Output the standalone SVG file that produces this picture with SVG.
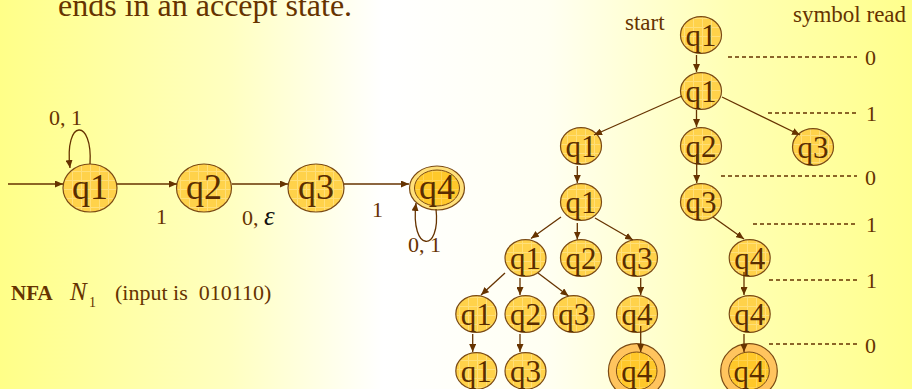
<svg xmlns="http://www.w3.org/2000/svg" width="912" height="389" viewBox="0 0 912 389">
<defs>
<linearGradient id="bg" x1="0" y1="0" x2="1" y2="0">
<stop offset="0" stop-color="#ffff88"/>
<stop offset="0.25" stop-color="#ffffc0"/>
<stop offset="0.42" stop-color="#ffffff"/>
<stop offset="0.6" stop-color="#fffff2"/>
<stop offset="0.8" stop-color="#ffffb4"/>
<stop offset="1" stop-color="#ffff8c"/>
</linearGradient>
<pattern id="grid" width="9" height="9" patternUnits="userSpaceOnUse">
<rect width="9" height="9" fill="#ffd24a"/>
<path d="M0 0.5H9M0.5 0V9" stroke="#ffdf78" stroke-width="1"/>
</pattern>
<pattern id="grid2" width="9" height="9" patternUnits="userSpaceOnUse">
<rect width="9" height="9" fill="#ffc82a"/>
<path d="M0 0.5H9M0.5 0V9" stroke="#ffd352" stroke-width="1"/>
</pattern>
<marker id="ah" markerWidth="8" markerHeight="7" refX="8" refY="3.5" orient="auto" markerUnits="userSpaceOnUse">
<path d="M0,0 L8,3.5 L0,7 z" fill="#663300"/>
</marker>
</defs>
<style>
.t{font-family:"Liberation Serif","Times New Roman",serif;fill:#663300}
.lbl{font-size:22px}
.nl{font-size:36px;text-anchor:middle;fill:#5a2d00}
.tl{font-size:31px;text-anchor:middle;fill:#5a2d00}
.n{fill:url(#grid);stroke:#7a4a14;stroke-width:1.2}
.outer{fill:#ffc45e;stroke:#7a4a14;stroke-width:1.2}
.inner{fill:url(#grid2);stroke:#7a4a14;stroke-width:1}
.e{fill:none;stroke:#663300;stroke-width:1.3;marker-end:url(#ah)}
.d{fill:none;stroke:#663300;stroke-width:1.3;stroke-dasharray:4 3}
</style>
<rect width="912" height="389" fill="url(#bg)"/>
<text class="t" x="58" y="16" font-size="32">ends in an accept state.</text>

<!-- NFA nodes -->
<g id="nfa_q1"><ellipse class="n" cx="90" cy="188" rx="27" ry="24"/><text class="t nl" x="90" y="199">q1</text></g>
<g id="nfa_q2"><ellipse class="n" cx="204" cy="188" rx="27.5" ry="24"/><text class="t nl" x="204" y="199">q2</text></g>
<g id="nfa_q3"><ellipse class="n" cx="316" cy="188" rx="28" ry="24"/><text class="t nl" x="316" y="199">q3</text></g>
<g id="nfa_q4"><ellipse class="n" cx="437" cy="188" rx="27.5" ry="22" style="fill:#ffe07a"/><ellipse class="inner" cx="437" cy="188" rx="22.5" ry="18"/><text class="t nl" x="437" y="199">q4</text></g>

<!-- NFA connectors -->
<g id="nfa_edges">
<path class="e" d="M8 184 L63 184"/>
<path class="e" d="M117 184 L177 184"/>
<path class="e" d="M232 184 L288 184"/>
<path class="e" d="M344 184 L409 184"/>
<path class="e" d="M90 164 C93 118, 64 118, 70 168"/>
<path class="e" d="M436 209 C441 253, 410 253, 416 203"/>
</g>
<g id="nfa_labels">
<text class="t lbl" x="49" y="125">0, 1</text>
<text class="t lbl" x="156" y="224">1</text>
<text class="t lbl" x="242" y="225">0, <tspan font-style="italic" font-size="27" fill="#111">ε</tspan></text>
<text class="t lbl" x="372" y="217">1</text>
<text class="t lbl" x="408" y="252">0, 1</text>
</g>
<g id="caption">
<text class="t" x="11" y="300" font-size="21" font-weight="bold">NFA</text>
<text class="t" x="70" y="300" font-size="25" font-style="italic" fill="#111">N</text>
<text class="t" x="89" y="307" font-size="14" fill="#111">1</text>
<text class="t" x="115" y="300" font-size="22" xml:space="preserve">(input is  010110)</text>
</g>

<!-- Tree labels -->
<text class="t" x="625" y="30" font-size="23">start</text>
<text class="t" x="793" y="22" font-size="23">symbol read</text>

<!-- Dashed lines and symbols -->
<g id="levels">
<path class="d" d="M728 57H857"/><text class="t lbl" x="865" y="65">0</text>
<path class="d" d="M768 113H857"/><text class="t lbl" x="866" y="121">1</text>
<path class="d" d="M721 176H857"/><text class="t lbl" x="865" y="185">0</text>
<path class="d" d="M753 224H855"/><text class="t lbl" x="866" y="232">1</text>
<path class="d" d="M769 280H857"/><text class="t lbl" x="866" y="288">1</text>
<path class="d" d="M769 344H857"/><text class="t lbl" x="865" y="353">0</text>
</g>

<!-- Tree nodes -->
<g id="t0_q1"><ellipse class="n" cx="701" cy="35" rx="20.5" ry="18.3"/><text class="t tl" x="701" y="46">q1</text></g>
<g id="t1_q1"><ellipse class="n" cx="701" cy="91" rx="20.5" ry="18.3"/><text class="t tl" x="701" y="102">q1</text></g>
<g id="t2_q1"><ellipse class="n" cx="581" cy="146" rx="20.5" ry="18.3"/><text class="t tl" x="581" y="157">q1</text></g>
<g id="t2_q2"><ellipse class="n" cx="701" cy="146" rx="20.5" ry="18.3"/><text class="t tl" x="701" y="157">q2</text></g>
<g id="t2_q3"><ellipse class="n" cx="813" cy="147" rx="20.5" ry="18.3"/><text class="t tl" x="813" y="158">q3</text></g>
<g id="t3_q1"><ellipse class="n" cx="581" cy="202" rx="20.5" ry="18.3"/><text class="t tl" x="581" y="213">q1</text></g>
<g id="t3_q3"><ellipse class="n" cx="701" cy="202" rx="20.5" ry="18.3"/><text class="t tl" x="701" y="213">q3</text></g>
<g id="t4_q1"><ellipse class="n" cx="525.5" cy="258" rx="20.5" ry="18.3"/><text class="t tl" x="525.5" y="269">q1</text></g>
<g id="t4_q2"><ellipse class="n" cx="581" cy="258" rx="20.5" ry="18.3"/><text class="t tl" x="581" y="269">q2</text></g>
<g id="t4_q3"><ellipse class="n" cx="637" cy="258" rx="20.5" ry="18.3"/><text class="t tl" x="637" y="269">q3</text></g>
<g id="t4_q4"><ellipse class="n" cx="749.7" cy="258" rx="20.5" ry="18.3"/><text class="t tl" x="749.7" y="269">q4</text></g>
<g id="t5_q1"><ellipse class="n" cx="476.3" cy="314" rx="20.5" ry="18.3"/><text class="t tl" x="476.3" y="325">q1</text></g>
<g id="t5_q2"><ellipse class="n" cx="525.5" cy="314" rx="20.5" ry="18.3"/><text class="t tl" x="525.5" y="325">q2</text></g>
<g id="t5_q3"><ellipse class="n" cx="573.7" cy="314" rx="20.5" ry="18.3"/><text class="t tl" x="573.7" y="325">q3</text></g>
<g id="t5_q4a"><ellipse class="n" cx="637" cy="314" rx="20.5" ry="18.3"/><text class="t tl" x="637" y="325">q4</text></g>
<g id="t5_q4b"><ellipse class="n" cx="749.7" cy="314" rx="20.5" ry="18.3"/><text class="t tl" x="749.7" y="325">q4</text></g>
<g id="t6_q1"><ellipse class="n" cx="476.3" cy="371" rx="20.5" ry="18.3"/><text class="t tl" x="476.3" y="382">q1</text></g>
<g id="t6_q3"><ellipse class="n" cx="525.5" cy="371" rx="20.5" ry="18.3"/><text class="t tl" x="525.5" y="382">q3</text></g>
<g id="t6_q4a"><ellipse class="outer" cx="636.7" cy="371" rx="28.3" ry="27.4"/><ellipse class="inner" cx="636.7" cy="371" rx="20.3" ry="19"/><text class="t tl" x="636.7" y="382">q4</text></g>
<g id="t6_q4b"><ellipse class="outer" cx="749" cy="371" rx="28.3" ry="27.4"/><ellipse class="inner" cx="749" cy="371" rx="20.3" ry="19"/><text class="t tl" x="749" y="382">q4</text></g>

<!-- Tree connectors -->
<g id="tree_edges">
<path class="e" d="M696.5 55 L696.5 72"/>
<path class="e" d="M682 96 L594 135"/>
<path class="e" d="M696.5 110 L696.5 127"/>
<path class="e" d="M722 97 L800 135"/>
<path class="e" d="M577.3 166 L577.3 183"/>
<path class="e" d="M696.7 154 L696.7 183"/>
<path class="e" d="M713 217 L744 239"/>
<path class="e" d="M561 217 L531 238.5"/>
<path class="e" d="M577.3 223 L577.3 239.5"/>
<path class="e" d="M595 218 L633 240"/>
<path class="e" d="M505 273 L481 295"/>
<path class="e" d="M520 278 L520 295"/>
<path class="e" d="M538 273 L568.5 296"/>
<path class="e" d="M640.7 278 L640.7 295"/>
<path class="e" d="M744 272 L744 295"/>
<path class="e" d="M472.7 334 L472.7 352"/>
<path class="e" d="M520 334 L520 352"/>
<path class="e" d="M640.7 326 L640.7 352"/>
<path class="e" d="M744 334 L744 352"/>
</g>
</svg>
